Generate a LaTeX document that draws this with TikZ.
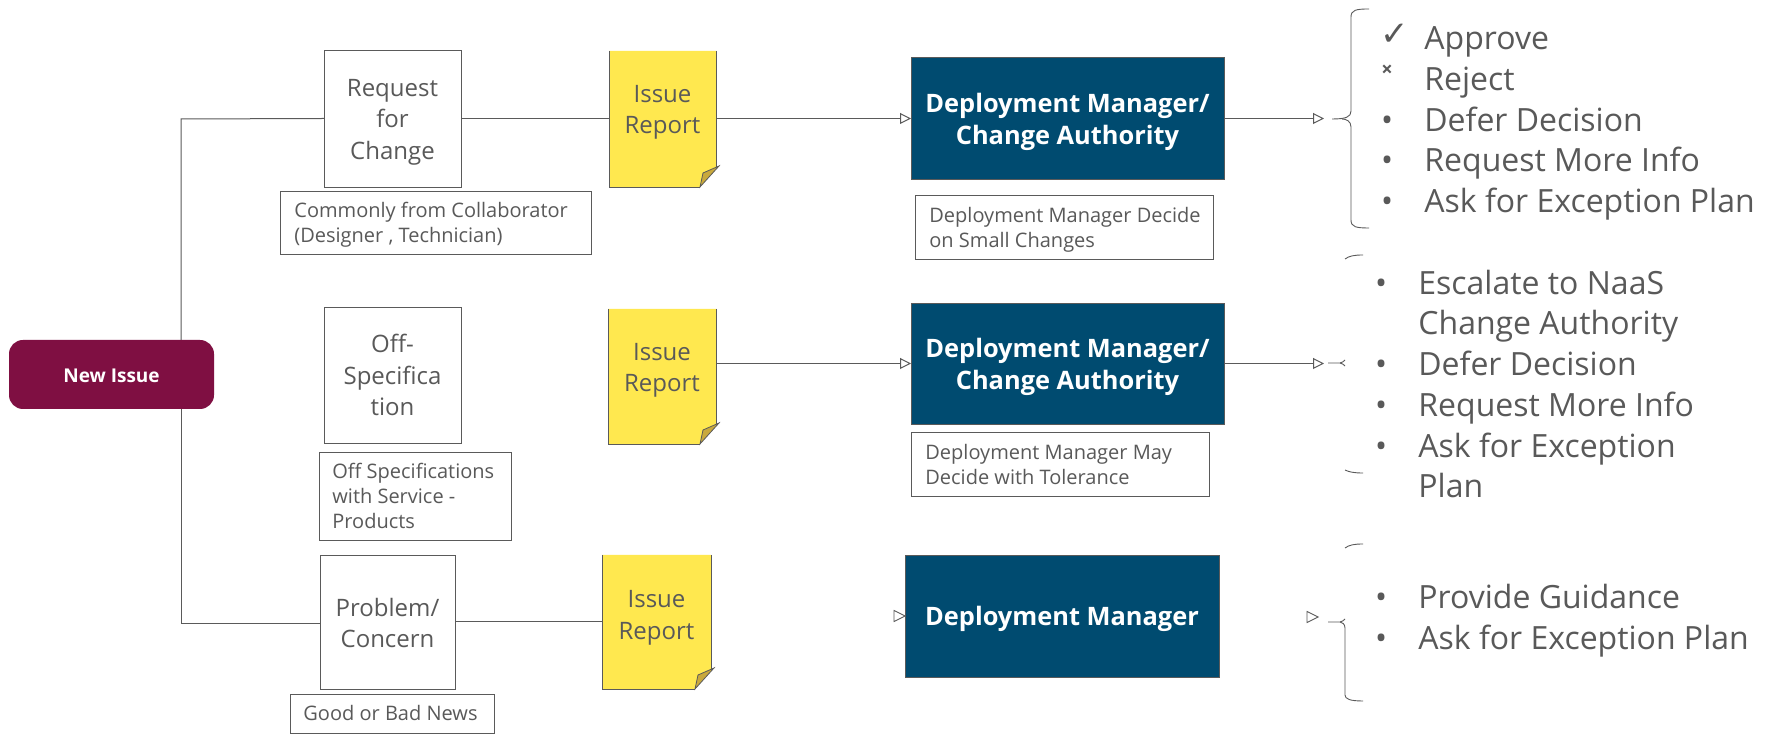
\documentclass[tikz,border=0pt]{standalone}
\usepackage{fontspec}
\setmainfont{Open Sans}
\newfontfamily\symfont{DejaVu Sans}
\usetikzlibrary{arrows.meta,calc}
\definecolor{inkgray}{HTML}{595959}
\definecolor{edgegray}{HTML}{5A5A5A}
\definecolor{maroon}{HTML}{7F0F42}
\definecolor{deepblue}{HTML}{004B70}
\definecolor{sticky}{HTML}{FFE84F}
\definecolor{stickyfold}{HTML}{C9A93C}
\newcommand{\toprule}[1]{\rule{0pt}{#1pt}}
\tikzset{
  boxx/.style 2 args={minimum width=#1*0.5pt,minimum height=#2*0.5pt,inner sep=0pt,outer sep=0pt},
  issuebox/.style={draw=edgegray,line width=0.45pt,fill=white,text=inkgray,align=center,font=\fontsize{12}{15.75}\selectfont},
  notebox/.style={draw=edgegray,line width=0.45pt,fill=white,text=inkgray,align=left,font=\fontsize{10}{12.5}\selectfont},
  notetext/.style={text=inkgray,align=left,anchor=north west,inner sep=0pt,font=\fontsize{10}{12.5}\selectfont},
  stickytext/.style={text=inkgray,align=center,inner sep=0pt,outer sep=0pt,font=\fontsize{12}{15.75}\selectfont},
  dmbox/.style={draw=edgegray,line width=0.45pt,fill=deepblue,text=white,align=center,font=\bfseries\fontsize{12.7}{16}\selectfont},
  conn/.style={draw=edgegray,line width=0.5pt},
  tipped/.style={conn,-{Triangle[open,length=5.5pt,width=5.5pt,fill=white]}},
  brc/.style={draw=edgegray,line width=0.45pt},
  listtext/.style={text=inkgray,anchor=base west,inner sep=0pt,font=\fontsize{16}{20}\selectfont},
  listmark/.style={text=inkgray,anchor=base,inner sep=0pt,font=\fontsize{16}{20}\selectfont},
  tipmark/.style={draw=edgegray,fill=white,line width=0.45pt}
}
\newcommand{\notepaper}[4]{%
  \fill[sticky] (#1,#2) -- (#3,#2) -- (#3,#4-20) -- (#3-16,#4) -- (#1,#4) -- cycle;
  \draw[edgegray,line width=0.45pt] (#3,#2) -- (#3,#4-20) (#3-16,#4) -- (#1,#4) -- (#1,#2);
  \draw[edgegray,line width=0.4pt,fill=stickyfold] (#3-16,#4) -- (#3-13,#4-14) -- (#3+3,#4-21) -- cycle;
}
\begin{document}
\begin{tikzpicture}[x=0.5pt,y=-0.5pt]
\useasboundingbox (0,0) rectangle (1772,747);
\fill[white] (0,0) rectangle (1772,747);

% sticky papers
\notepaper{609}{51}{716}{187}
\notepaper{608}{309}{716}{444}
\notepaper{602}{555}{711}{689}

% root
\node[boxx={205}{69},fill=maroon,rounded corners=7pt,text=white,font=\bfseries\fontsize{9.5}{12}\selectfont] (new) at (111.5,374.5) {\toprule{8.4}New Issue};

% issue type boxes
\node[issuebox,boxx={137}{137}] (request) at (392.5,118.5) {\toprule{12}Request\\for\\Change};
\node[issuebox,boxx={137}{136}] (offspec) at (392.5,375) {Off-\\Specifica\\tion};
\node[issuebox,boxx={135}{134}] (problem) at (387.5,622) {\toprule{10.1}Problem/\\Concern};

% sticky texts
\node[stickytext,boxx={107}{60}] (rep1) at (662.5,112.4) {Issue\\Report};
\node[stickytext,boxx={108}{60}] (rep2) at (662,370.4) {Issue\\Report};
\node[stickytext,boxx={109}{60}] (rep3) at (656.5,617.6) {Issue\\Report};

% decision boxes
\node[dmbox,boxx={313}{122}] (dm1) at (1067.5,118.5) {\toprule{12.9}Deployment Manager/\\Change Authority};
\node[dmbox,boxx={313}{121}] (dm2) at (1067.5,363.5) {\toprule{13.4}Deployment Manager/\\Change Authority};
\node[dmbox,boxx={314}{122}] (dm3) at (1062,616) {\toprule{12.9}Deployment Manager};

% note boxes
\node[notebox,boxx={311}{63}] (n1) at (435.5,222.5) {};
\node[notetext] (n1t) at (294,202) {Commonly from Collaborator\\(Designer , Technician)};
\node[notebox,boxx={192}{88}] (n2) at (415,496) {};
\node[notetext] (n2t) at (332,462.5) {Off Specifications\\with Service -\\Products};
\node[notebox,boxx={204}{39}] (n3) at (392,713.5) {};
\node[notetext] (n3t) at (303,704.5) {Good or Bad News};
\node[notebox,boxx={298}{64}] (n4) at (1064,227) {};
\node[notetext] (n4t) at (929,206.5) {Deployment Manager Decide\\on Small Changes};
\node[notebox,boxx={298}{64}] (n5) at (1060,464) {};
\node[notetext] (n5t) at (925,443.5) {Deployment Manager May\\Decide with Tolerance};

% trunk
\coordinate (trunk) at (181,119);
\draw[conn] (new.north -| trunk) -- (trunk) -- (request.west);
\draw[conn] (new.south -| trunk) |- ([yshift=-1pt]problem.west);

% row connectors
\draw[conn] (request.east) -- (request.east -| rep1.west);
\draw[tipped] (rep1.east |- dm1.west) -- (dm1.west);
\draw[conn] (problem.east) -- (problem.east -| rep3.west);
\draw[tipped] (rep2.east |- dm2.west) -- (dm2.west);

% decision arrows
\coordinate (a1) at (1324,118.5);
\coordinate (a2) at (1324,363.5);
\draw[tipped] (dm1.east) -- (a1);
\draw[tipped] (dm2.east) -- (a2);

% bare arrow tips of the third row
\coordinate (a3) at (1318,617);
\draw[tipmark] (dm3.west) -- ++(-11,-5.5) -- ++(0,11) -- cycle;
\draw[tipmark] (a3) -- ++(-11,-5.5) -- ++(0,11) -- cycle;

% braces
\coordinate (b1) at (1332,119);
\draw[brc] (1369,9) .. controls (1356,9) and (1351,10) .. (1351,17) -- (1351,111) .. controls (1351,117) and (1346,119) .. (b1);
\draw[brc] (b1) ++(10,0) .. controls (1346,119) and (1351,121) .. (1351,127) -- (1351,220) .. controls (1351,227) and (1356,228) .. (1369,228);
\coordinate (b2) at (1328,363);
\draw[brc] (1363,255) .. controls (1354,255) and (1349,256) .. (1345,259);
\draw[brc] (b2) -- (1340,363) .. controls (1342,363) and (1344,361) .. (1345,360);
\draw[brc] (1340,363) .. controls (1342,363) and (1344,365) .. (1345,366);
\draw[brc] (1345,470) .. controls (1349,472) and (1354,473) .. (1363,473);
\coordinate (b3) at (1328,622);
\draw[brc] (1363,544) .. controls (1354,544) and (1349,545) .. (1345,548);
\draw[brc] (b3) -- (1340,622) .. controls (1342,622) and (1344,620) .. (1345,619);
\draw[brc] (1340,622) .. controls (1342,622) and (1345,624) .. (1345,628) -- (1345,695) .. controls (1345,699) and (1350,701) .. (1363,701);

% list one
\node[text=inkgray,inner sep=0pt,font=\symfont\fontsize{17}{17}\selectfont] (m1a) at (1395,35) {✓};
\node[text=inkgray,inner sep=0pt,font=\bfseries\fontsize{10}{10}\selectfont] (m1b) at (1387,71) {×};
\node[listmark] (m1c) at (1387,132) {•};
\node[listmark] (m1d) at (1387,172) {•};
\node[listmark] (m1e) at (1387,213) {•};
\node[listtext] (l1a) at (1424,50) {Approve};
\node[listtext] (l1b) at (1424,91) {Reject};
\node[listtext] (l1c) at (1424,132) {Defer Decision};
\node[listtext] (l1d) at (1424,172) {Request More Info};
\node[listtext] (l1e) at (1424,213) {Ask for Exception Plan};

% list two
\node[listmark] (m2a) at (1381,295) {•};
\node[listmark] (m2c) at (1381,376) {•};
\node[listmark] (m2d) at (1381,417) {•};
\node[listmark] (m2e) at (1381,458) {•};
\node[listtext] (l2a) at (1418,295) {Escalate to NaaS};
\node[listtext] (l2b) at (1418,335) {Change Authority};
\node[listtext] (l2c) at (1418,376) {Defer Decision};
\node[listtext] (l2d) at (1418,417) {Request More Info};
\node[listtext] (l2e) at (1418,458) {Ask for Exception};
\node[listtext] (l2f) at (1418,498) {Plan};

% list three
\node[listmark] (m3a) at (1381,609) {•};
\node[listmark] (m3b) at (1381,650) {•};
\node[listtext] (l3a) at (1418,609) {Provide Guidance};
\node[listtext] (l3b) at (1418,650) {Ask for Exception Plan};
\end{tikzpicture}
\end{document}
